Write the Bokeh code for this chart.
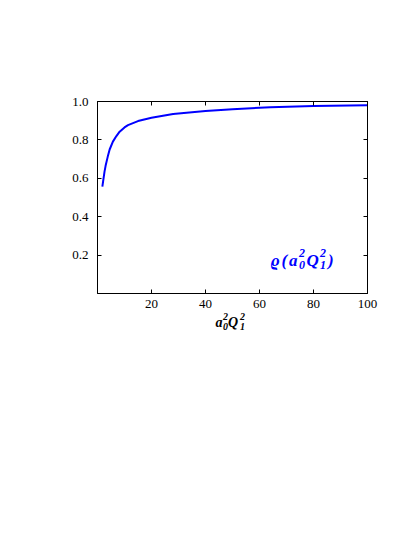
from bokeh.plotting import figure
from bokeh.models import Range1d, LinearAxis, FixedTicker, Label, PrintfTickFormatter
from bokeh.embed import file_html
from bokeh.resources import INLINE

# data
q2 = [1.8, 2.6, 3.0, 3.8, 4.5, 5.7, 7.0, 8.2, 10.0, 11.3, 15.0, 20.0, 28.0, 40.0, 50.0, 64.0, 80.0, 100.0]
rho = [0.557, 0.635, 0.665, 0.713, 0.750, 0.791, 0.820, 0.843, 0.865, 0.877, 0.898, 0.915, 0.935, 0.950, 0.960, 0.970, 0.976, 0.981]
x_ticks = [20, 40, 60, 80, 100]
y_ticks = [0.2, 0.4, 0.6, 0.8, 1.0]

FONT = "Liberation Serif"

p = figure(width=407, height=523, x_range=Range1d(0, 100), y_range=Range1d(0, 1),
           output_backend="svg", toolbar_location=None,
           min_border_left=97, min_border_right=40, min_border_top=101, min_border_bottom=230)
p.grid.visible = False
p.outline_line_color = "black"
p.outline_line_width = 1
p.background_fill_color = "white"
p.border_fill_color = "white"

def style(ax, ticks, labels=True, standoff=6):
    ax.ticker = FixedTicker(ticks=ticks)
    ax.major_tick_in = 4
    ax.major_tick_out = 0
    ax.minor_tick_line_color = None
    ax.major_tick_line_color = "black"
    ax.axis_line_color = "black"
    ax.major_label_standoff = standoff
    ax.major_label_text_font = FONT
    ax.major_label_text_font_size = "13px"
    ax.major_label_text_color = "black" if labels else None

style(p.xaxis[0], x_ticks, True, 6)
style(p.yaxis[0], y_ticks, True, 9)
p.yaxis[0].formatter = PrintfTickFormatter(format="%.1f")
top = LinearAxis()
style(top, x_ticks, False)
right = LinearAxis()
style(right, y_ticks, False)
p.add_layout(top, "above")
p.add_layout(right, "right")

p.line(q2, rho, line_color="#0000ff", line_width=2)

def piece(x, y, text, dx, dy, size, color, place=None):
    lab = Label(x=x, y=y, x_offset=dx, y_offset=dy, text=text,
                text_font=FONT, text_font_style="bold italic",
                text_font_size=size, text_color=color,
                text_baseline="alphabetic", text_align="left")
    if place:
        p.add_layout(lab, place)
    else:
        p.add_layout(lab)

# in-plot label  ϱ(a0^2 Q1^2)
lx, ly, c = 64.1, 0.1695, "#0000ff"
piece(lx, ly, "ϱ", 0, 0, "17px", c)
piece(lx, ly, "(", 11, 0, "17px", c)
piece(lx, ly, "a", 18.5, 0, "17px", c)
piece(lx, ly, "2", 28.5, 7.5, "12px", c)
piece(lx, ly, "0", 28.5, -4.5, "12px", c)
piece(lx, ly, "Q", 36, 0, "17px", c)
piece(lx, ly, "2", 49.5, 7.5, "12px", c)
piece(lx, ly, "1", 49.5, -4.5, "12px", c)
piece(lx, ly, ")", 57.5, 0, "17px", c)

# x-axis label a0^2 Q1^2 (placed in the panel below the frame)
ax_, ay_, k = 43.7, -0.151, "black"
piece(ax_, ay_, "a", 0, 0, "14px", k, "below")
piece(ax_, ay_, "2", 7.5, 5.5, "10px", k, "below")
piece(ax_, ay_, "0", 7.5, -4, "10px", k, "below")
piece(ax_, ay_, "Q", 12.5, 0, "14px", k, "below")
piece(ax_, ay_, "2", 24.5, 5.5, "10px", k, "below")
piece(ax_, ay_, "1", 24.5, -4, "10px", k, "below")

open("out.html", "w").write(file_html(p, INLINE))
